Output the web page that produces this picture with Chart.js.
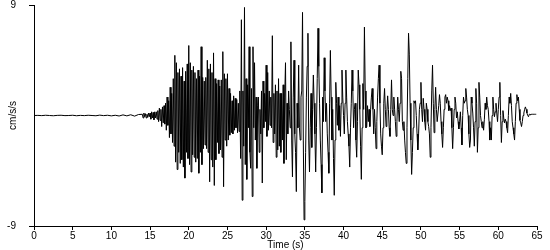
<!DOCTYPE html>
<html lang="en">
<head>
	<meta charset="UTF-8">
	<title>Accelerogram</title>
	<script src="https://cdn.jsdelivr.net/npm/chart.js"></script>
	<style>
		body { margin: 0; background: #fff; }
		#wrap { width: 550px; height: 250px; }
	</style>
</head>
<body>
	<div id="wrap"><canvas id="accChart" width="550" height="250"></canvas></div>

	<script type="text/javascript">
		// pre-event part, sampled every 0.5 s from t = 0
		var quietStart = 0;
		var quietStep = 0.5;
		var quietVals = [0, 0.01, -0.01, 0.02, 0, -0.02, 0.01, 0.02, -0.01, 0,
			0.02, -0.02, 0.01, -0.01, 0.02, 0, -0.02, 0.03, -0.01, 0.02,
			-0.03, 0.02, -0.04, 0.05, -0.03, 0.06, -0.05, 0.08];

		// strong motion, sampled every 0.1 s from t = 14 (one line = one second)
		var strongStart = 14;
		var strongStep = 0.1;
		var strongVals = [
			0.1, -0.2, 0.2, -0.1, 0.15, -0.2, 0.1, -0.15, 0.2, -0.1,      // 14
			0.2, -0.3, 0.3, -0.2, 0.25, -0.35, 0.3, -0.2, 0.3, -0.3,      // 15
			0.4, -0.5, 0.6, -0.4, 0.5, -0.9, 0.7, -0.6, 0.8, -0.7,        // 16
			1.0, -1.2, 1.5, -0.8, 1.2, -1.8, 2.3, -1.5, 1.8, -2.2,        // 17
			3.0, -2.5, 4.9, -3.8, 4.3, -4.4, 3.5, -3.0, 3.8, -3.9,        // 18
			3.2, -3.6, 3.9, -4.2, 2.8, -5.1, 3.6, -3.0, 4.2, -3.5,        // 19
			5.7, -4.0, 4.3, -4.6, 3.7, -3.2, 4.0, -3.4, 3.5, -3.8,        // 20
			3.0, -3.5, 3.7, -4.7, 3.2, -3.0, 5.6, -4.0, 3.1, -2.7,        // 21
			2.8, -2.4, 3.1, -2.7, 4.5, -3.0, 3.8, -5.4, 4.2, -3.6,        // 22
			3.5, -4.2, 5.1, -5.7, 3.0, -3.6, 2.6, -2.2, 2.9, -3.1,        // 23
			2.4, -2.8, 2.9, -3.4, 5.2, -5.8, 3.4, -2.0, 3.0, -2.5,        // 24
			3.4, -2.0, 2.2, -1.6, 1.8, -1.4, 1.2, -1.5, 1.6, -1.2,        // 25
			1.4, -1.0, 1.3, -1.4, 1.0, -1.3, 2.0, -3.5, 7.8, -6.9,        // 26
			2.0, -2.5, 8.8, -4.0, 3.0, -5.2, 2.5, -1.0, 5.6, -3.0,        // 27
			-4.3, 2.2, -6.6, 5.6, -1.0, 4.3, -2.0, 1.5, -4.3, 0.8,        // 28
			1.5, -3.0, 0.5, -1.5, 2.0, -5.5, 2.8, -1.0, 1.8, -0.5,        // 29
			4.1, -1.7, 3.5, -1.2, 2.0, -0.8, 1.5, -1.0, 6.5, -2.2,        // 30
			1.8, -1.5, 2.5, -3.4, 2.0, -2.8, 3.0, -2.5, 1.8, -3.0,        // 31
			1.8, -2.0, 2.5, -3.9, 1.5, 4.3, -3.6, 1.0, -1.5, 2.0,         // 32
			0.5, -1.0, 6.0, -2.0, -5.0, 1.5, 4.5, -1.5, -3.0, -6.2,       // 33
			1.0, -1.0, 4.1, -1.0, -2.0, 1.5, 2.0, 8.4, -2.0, -8.5,        // 34
			-7.0, -3.0, 1.5, 4.0, 6.7, -2.0, -4.6, -1.0, 1.8, -2.6,       // 35
			0.5, 3.3, 1.0, -1.5, -4.6, -1.0, 3.0, 7.1, 4.0, 1.0,          // 36
			-2.0, -4.0, -6.3, 1.5, -0.5, 4.7, 2.0, -0.5, 1.0, -1.5,       // 37
			-3.0, -4.7, 1.0, 5.3, 1.5, -2.0, 0.5, -3.5, -6.5, -2.0,       // 38
			2.7, 1.0, -0.8, 1.5, -1.2, 0.8, -1.7, 1.0, 3.7, 1.5,          // 39
			0.0, -1.5, 1.0, 3.7, 1.5, -0.5, -1.5, -2.5, -4.2, -1.0,       // 40
			1.0, 3.7, 2.0, -1.0, 0.5, 1.0, -2.0, -3.4, -0.5, 3.7,         // 41
			2.5, 0.5, -2.5, -5.2, -1.0, 2.6, 0.5, 7.2, 2.0, -1.0,         // 42
			-0.9, 0.8, -0.5, 0.5, -0.9, 0.5, 1.5, 2.2, 0.5, -1.5,         // 43
			0.5, -1.0, -2.7, -0.5, 1.5, 3.0, 4.1, 1.0, -1.5, -2.5,        // 44
			-3.2, -1.0, 1.0, 2.2, 0.5, -0.9, 0.3, 1.6, 0.5, -1.0,         // 45
			-1.7, 0.5, 2.9, 0.5, 0.0, 1.5, 0.5, -0.5, -1.7, -0.5,         // 46
			1.5, 0.5, -0.5, 1.0, 3.6, 3.0, -0.5, -1.2, -0.5, -2.0,        // 47
			-3.0, -3.9, -1.0, 3.0, 6.7, 5.0, 1.0, -2.0, -4.8, -3.0,       // 48
			-1.0, 1.2, 1.0, 1.2, 0.0, -1.5, -2.8, -1.5, 0.5, 1.0,         // 49
			2.7, 0.5, -0.5, 1.4, 0.5, -0.5, -1.2, 1.0, 0.5, -0.5,         // 50
			-0.9, -1.5, -3.4, -1.0, 2.0, 4.1, 1.0, -1.4, 0.5, 2.3,        // 51
			0.5, -0.5, -0.5, 0.8, 1.7, 1.0, -0.5, -1.5, -2.6, -1.0,       // 52
			0.5, 1.5, 1.7, 1.0, 1.5, 1.2, 0.4, 0.8, 0.4, 0.6,             // 53
			-1.0, -2.7, -1.0, 0.5, 1.5, 1.0, -0.2, 0.3, -0.5, -1.1,       // 54
			-0.5, 0.3, -1.0, -2.4, 0.0, 1.5, 1.0, 1.2, 2.2, 1.5,          // 55
			0.5, 0.0, -1.5, -2.6, -2.0, 1.5, 1.0, 0.2, -1.0, -2.5,        // 56
			-0.5, 2.2, 1.0, -3.0, -1.0, 2.7, 1.5, 0.0, -0.5, -1.0,        // 57
			-0.5, -1.2, -0.3, 1.0, 0.5, 1.5, 0.8, 0.5, -0.5, -2.0,        // 58
			-1.0, -2.0, 0.0, 1.5, 0.5, -0.1, 0.3, 1.0, 0.2, -0.5,         // 59
			0.5, 1.5, 2.7, 0.0, -2.2, -0.5, 0.4, -0.2, -0.6, -0.3,        // 60
			-0.5, -1.0, -1.4, 0.0, 1.5, 1.0, 1.8, 0.8, -0.5, -1.0,        // 61
			-1.5, -2.0, -0.5, 1.0, 1.7, 1.2, 1.5, 0.5, -0.4, -0.6,        // 62
			-0.9, -0.5, 0.0, 0.2, 0.5, 0.7, 0.5, 0.2, 0.0, -0.1,          // 63
			0.1, 0.1, 0.05, 0.1, 0.1, 0.1, 0.1, 0.1, 0.1, 0.1             // 64
		];

		var xTicks = [0, 5, 10, 15, 20, 25, 30, 35, 40, 45, 50, 55, 60, 65];
		var yTicks = [-9, 9];

		var points = [];
		for (let i = 0; i < quietVals.length; i++) {
			points.push({ x: quietStart + i * quietStep, y: quietVals[i] });
		}
		for (let i = 0; i < strongVals.length; i++) {
			points.push({ x: +(strongStart + i * strongStep).toFixed(2), y: strongVals[i] });
		}

		var axisFont = { family: 'Liberation Sans, Arial, sans-serif', size: 10 };

		var ctx = document.getElementById('accChart').getContext('2d');
		var myChart = new Chart(ctx, {
			type: 'line',
			data: {
				datasets: [{
					data: points,
					borderColor: '#000',
					borderWidth: 1,
					pointRadius: 0,
					tension: 0,
					fill: false
				}]
			},
			options: {
				responsive: false,
				animation: false,
				events: [],
				layout: { padding: { left: 0, right: 13, top: 5, bottom: 0 } },
				plugins: {
					legend: { display: false },
					tooltip: { enabled: false }
				},
				scales: {
					x: {
						type: 'linear',
						min: 0,
						max: 65,
						afterBuildTicks: function (scale) {
							scale.ticks = xTicks.map(function (v) { return { value: v }; });
						},
						afterFit: function (scale) {
							scale.height = 24;
							scale.paddingLeft = 0;
							scale.paddingRight = 0;
						},
						border: { color: '#000', width: 1 },
						grid: { drawOnChartArea: false, color: '#000', tickLength: 4 },
						ticks: { color: '#000', font: axisFont, padding: 0, maxRotation: 0 },
						title: {
							display: true,
							text: 'Time (s)',
							color: '#000',
							font: { family: axisFont.family, size: 10, lineHeight: 1 },
							padding: { top: 0, bottom: 0 }
						}
					},
					y: {
						min: -9,
						max: 9,
						afterBuildTicks: function (scale) {
							scale.ticks = yTicks.map(function (v) { return { value: v }; });
						},
						afterFit: function (scale) {
							scale.width = 34;
							scale.paddingTop = 0;
							scale.paddingBottom = 0;
						},
						border: { color: '#000', width: 1 },
						grid: { drawOnChartArea: false, color: '#000', tickLength: 5 },
						ticks: { color: '#000', font: axisFont, padding: 13 },
						title: {
							display: true,
							text: 'cm/s/s',
							color: '#000',
							font: axisFont,
							padding: { top: 7, bottom: 0 }
						}
					}
				}
			}
		});
	</script>
</body>
</html>
